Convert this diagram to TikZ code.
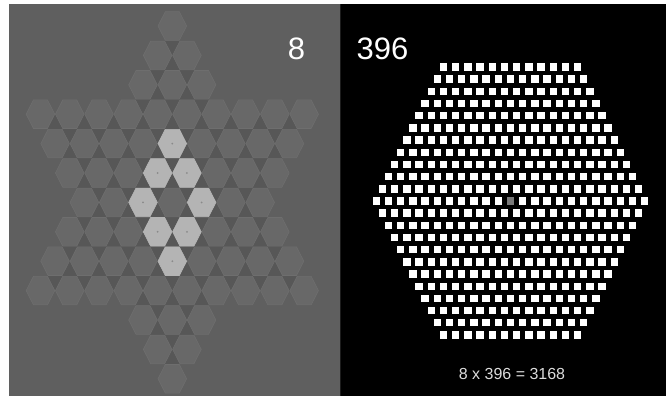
\documentclass[tikz,border=0pt]{standalone}
\usepackage{fontspec}
\setmainfont{Liberation Sans}
\definecolor{panelgray}{HTML}{5F5F5F}
\definecolor{gapgray}{HTML}{575757}
\definecolor{hexgray}{HTML}{686868}
\definecolor{hexedge}{HTML}{6E6E6E}
\definecolor{hexbright}{HTML}{B4B4B4}
\definecolor{dotgray}{HTML}{8A8A8A}
\definecolor{midsq}{HTML}{7A7A7A}
\definecolor{labelgray}{HTML}{DCDCDC}
\tikzset{
  hexcell/.style={fill=hexgray,draw=hexedge,line width=0.6pt},
  hexlit/.style={fill=hexbright,draw=hexbright,line width=0.6pt},
  sq/.style={fill=white},
  biglabel/.style={text=white,font=\fontsize{31}{31}\selectfont,inner sep=0pt},
  smalllabel/.style={text=labelgray,font=\fontsize{16}{16}\selectfont,inner sep=0pt}
}
\newcommand{\hexpath}[2]{(#1-14.3,#2) -- (#1-7,#2-14.3) -- (#1+7,#2-14.3) -- (#1+14.3,#2) -- (#1+7,#2+14.3) -- (#1-7,#2+14.3) -- cycle}
\begin{document}
\begin{tikzpicture}[x=1pt,y=-1pt]
\useasboundingbox (0,0) rectangle (666,396);
\fill[white] (0,0) rectangle (666,396);
% panels
\fill[panelgray] (9,4) rectangle (341,396);
\fill[black] (341,4) rectangle (666,396);
\fill[black!70!panelgray] (339.5,4) rectangle (341,396);
% darker gaps inside the hexagram
\fill[gapgray] (172.3,26) -- (40.4,290.6) -- (304.2,290.6) -- cycle;
\fill[gapgray] (172.3,378.8) -- (40.4,114.2) -- (304.2,114.2) -- cycle;
% hexagons
\foreach \n [count=\k] in {1,2,3,10,9,8,7,8,9,10,3,2,1} {
  \pgfmathsetmacro\cy{26+(\k-1)*29.4}
  \foreach \i in {1,...,\n} {
    \pgfmathsetmacro\cx{172.3+(\i-(\n+1)/2)*29.3}
    \path[hexcell] \hexpath{\cx}{\cy};
  }
}
% lit hexagons (row, index, count)
\foreach \k/\i/\n in {5/5/9, 6/4/8, 6/5/8, 7/3/7, 7/5/7, 8/4/8, 8/5/8, 9/5/9} {
  \pgfmathsetmacro\cy{26+(\k-1)*29.4}
  \pgfmathsetmacro\cx{172.3+(\i-(\n+1)/2)*29.3}
  \path[hexlit] \hexpath{\cx}{\cy};
  \fill[dotgray] (\cx,\cy) circle (1);
}
% squares
\foreach \r in {0,...,22} {
  \pgfmathtruncatemacro\n{12+min(\r,22-\r)}
  \pgfmathsetmacro\sy{67+\r*12.18}
  \foreach \j in {1,...,\n} {
    \pgfmathsetmacro\sx{510.5+(\j-(\n+1)/2)*12.2}
    \fill[sq] (\sx-3.7,\sy-3.7) rectangle (\sx+3.7,\sy+3.7);
  }
}
\fill[midsq] (510.5-3.7,201-3.7) rectangle (510.5+3.7,201+3.7);
% labels
\node[biglabel] (eight) at (296.5,48.5) {8};
\node[biglabel] (count) at (382.5,48.5) {396};
\node[smalllabel] (product) at (512,373.5) {8 x 396 = 3168};
\end{tikzpicture}
\end{document}
